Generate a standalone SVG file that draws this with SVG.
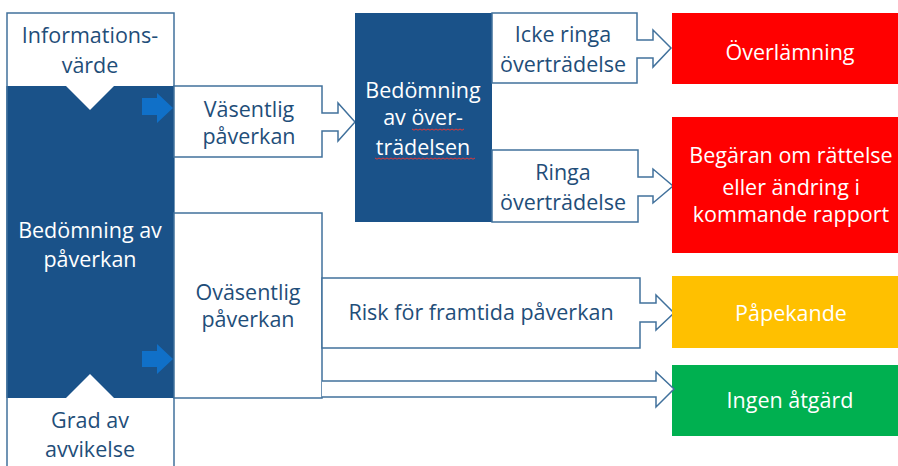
<svg xmlns="http://www.w3.org/2000/svg" width="898" height="466" viewBox="0 0 898 466">
<defs>
<style>
.bg{fill:#ffffff}
.dark{fill:#1A5289}
.wbox{fill:#ffffff;stroke:#41719C;stroke-width:1.5}
.notch{fill:#ffffff}
.blueArrow{fill:#1070C8}
.t{font-family:"Open Sans","Liberation Sans",sans-serif;font-size:21.5px;text-anchor:middle}
.td{fill:#1F4E79}
.tw{fill:#ffffff}
.wave{fill:none;stroke:#E03A3A;stroke-width:1}
</style>
</defs>
<rect class="bg" x="0" y="0" width="898" height="466"/>

<g id="node-bedomning-paverkan">
<rect class="wbox" x="7" y="13" width="167" height="460"/>
<rect class="dark" x="7" y="86" width="167" height="312"/>
<polygon class="notch" points="65,85 115,85 90,110"/>
<polygon class="notch" points="65,399 115,399 90,374"/>
<line x1="7" y1="86" x2="7" y2="398" stroke="#41719C" stroke-width="1.5"/>
<text class="t tw" x="90" y="238">Bedömning av</text>
<text class="t tw" x="90" y="267">påverkan</text>
</g>

<g id="node-informationsvarde">
<text class="t td" x="90" y="43">Informations-</text>
<text class="t td" x="90" y="73">värde</text>
</g>

<g id="node-grad-av-avvikelse">
<text class="t td" x="90" y="428">Grad av</text>
<text class="t td" x="90" y="457">avvikelse</text>
</g>

<g id="node-ovasentlig">
<rect class="wbox" x="174" y="213" width="148" height="185"/>
<text class="t td" x="248" y="300">Oväsentlig</text>
<text class="t td" x="248" y="327">påverkan</text>
</g>

<g id="node-vasentlig">
<path class="wbox" d="M174,86 H322 V113 H338 V103 L355,122 L338,141 V131 H322 V157 H174 Z"/>
<text class="t td" x="249" y="117">Väsentlig</text>
<text class="t td" x="249" y="144">påverkan</text>
</g>

<g id="node-bedomning-overtradelsen">
<rect class="dark" x="355" y="13" width="137" height="209"/>
<text class="t tw" x="423" y="98">Bedömning</text>
<text class="t tw" x="423" y="125">av över-</text>
<text class="t tw" x="423" y="155">trädelsen</text>
<path class="wave" d="M412,129 l2,1.2 l2,-1.2 l2,1.2 l2,-1.2 l2,1.2 l2,-1.2 l2,1.2 l2,-1.2 l2,1.2 l2,-1.2 l2,1.2 l2,-1.2 l2,1.2 l2,-1.2 l2,1.2 l2,-1.2 l2,1.2 l2,-1.2 l2,1.2 l2,-1.2 l2,1.2 l2,-1.2 l2,1.2 l2,-1.2 l2,1.2 l2,-1.2"/>
<path class="wave" d="M375,158 l2,1.2 l2,-1.2 l2,1.2 l2,-1.2 l2,1.2 l2,-1.2 l2,1.2 l2,-1.2 l2,1.2 l2,-1.2 l2,1.2 l2,-1.2 l2,1.2 l2,-1.2 l2,1.2 l2,-1.2 l2,1.2 l2,-1.2 l2,1.2 l2,-1.2 l2,1.2 l2,-1.2 l2,1.2 l2,-1.2 l2,1.2 l2,-1.2 l2,1.2 l2,-1.2 l2,1.2 l2,-1.2 l2,1.2 l2,-1.2 l2,1.2 l2,-1.2 l2,1.2 l2,-1.2 l2,1.2 l2,-1.2 l2,1.2 l2,-1.2 l2,1.2 l2,-1.2 l2,1.2 l2,-1.2 l2,1.2 l2,-1.2 l2,1.2 l2,-1.2 l2,1.2 l2,-1.2"/>
</g>

<g id="node-icke-ringa">
<path class="wbox" d="M492,13 H637 V40 H653 V30 L671,48 L653,67 V58 H637 V83 H492 Z"/>
<text class="t td" x="563" y="42">Icke ringa</text>
<text class="t td" x="563" y="72">överträdelse</text>
</g>

<g id="node-ringa">
<path class="wbox" d="M492,150 H638 V177 H653 V169 L673,186 L653,203 V196 H638 V222 H492 Z"/>
<text class="t td" x="563" y="180">Ringa</text>
<text class="t td" x="563" y="210">överträdelse</text>
</g>

<g id="node-risk">
<path class="wbox" d="M322,278 H640 V303 H656 V295 L674,313 L656,330 V322 H640 V348 H322 Z"/>
<text class="t td" x="481" y="320">Risk för framtida påverkan</text>
</g>

<g id="node-overlamning">
<rect x="672" y="13" width="230" height="71" fill="#FF0000"/>
<text class="t tw" x="790" y="60">Överlämning</text>
</g>

<g id="node-begaran">
<rect x="672" y="117" width="230" height="136" fill="#FF0000"/>
<text class="t tw" x="791" y="163">Begäran om rättelse</text>
<text class="t tw" x="791" y="195">eller ändring i</text>
<text class="t tw" x="791" y="222">kommande rapport</text>
</g>

<g id="node-papekande">
<rect x="672" y="276" width="230" height="72" fill="#FFC000"/>
<text class="t tw" x="791" y="321">Påpekande</text>
</g>

<g id="node-ingen-atgard">
<rect x="672" y="365" width="230" height="71" fill="#00B050"/>
<text class="t tw" x="790" y="408">Ingen åtgärd</text>
</g>

<g id="connectors">
<path class="blueArrow" d="M142,98 H157 V93 L173,108 L157,123 V115 H142 Z"/>
<path class="blueArrow" d="M142,351 H157 V344 L173,359 L157,374 V367 H142 Z"/>
<path class="wbox" d="M322,381 H656 V372 L674,389 L656,407 V397 H322"/>
</g>
</svg>
